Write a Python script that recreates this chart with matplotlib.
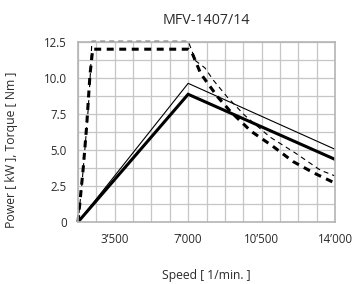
import matplotlib
matplotlib.use("Agg")
import matplotlib.pyplot as plt
import numpy as np

plt.rcParams['font.family'] = ['Open Sans', 'DejaVu Sans']
plt.rcParams['lines.scale_dashes'] = False

title = "MFV-1407/14"
xlabel = "Speed [ 1/min. ]"
ylabel = "Power [ kW ], Torque [ Nm ]"

x_ticks = [3500, 7000, 10500, 14000]
x_ticklabels = ["3\u2019500", "7\u2019000", "10\u2019500", "14\u2019000"]
y_ticks = [0, 2.5, 5.0, 7.5, 10.0, 12.5]
y_ticklabels = ["0", "2.5", "5.0", "7.5", "10.0", "12.5"]

# Power S1 (thick solid)
power_s1_x = [1750, 7000, 14000]
power_s1_y = [0, 8.87, 4.35]
# Power S6 (thin solid)
power_s6_x = [1750, 7000, 14000]
power_s6_y = [0, 9.63, 5.05]
# Torque S1 (thick dashed)
torque_s1_x = [1750, 2000, 2165, 2320, 2450, 7000, 7200, 7600, 8400, 9000, 10000, 11000, 12000, 13000, 14000]
torque_s1_y = [0, 3.75, 6.7, 10.2, 12.0, 12.0, 11.7, 10.3, 8.7, 7.7, 6.3, 5.3, 4.2, 3.4, 2.7]
# Torque S6 (thin dashed)
torque_s6_x = [1750, 1920, 2080, 2240, 2355, 2410, 7000, 7150, 7350, 7800, 8200, 8850, 9700, 10900, 12100, 13300, 14000]
torque_s6_y = [0, 2.35, 5.1, 7.9, 10.7, 12.55, 12.55, 12.0, 11.2, 10.7, 9.85, 8.7, 7.4, 5.9, 4.8, 3.6, 3.2]

fig = plt.figure(figsize=(3.56, 2.84), dpi=100)
ax = fig.add_axes([78/356, 1-222/284, (335-78)/356, (222-42)/284])

ax.set_xlim(1750, 14000)
ax.set_ylim(0, 12.5)

ax.set_xticks(x_ticks)
ax.set_xticklabels(x_ticklabels)
ax.set_xticks(np.arange(1750, 14001, 875), minor=True)
ax.set_yticks(y_ticks)
ax.set_yticklabels(y_ticklabels)
ax.set_yticks(np.arange(0, 12.51, 1.25), minor=True)
ax.tick_params(which='both', length=0, labelsize=8.3, colors='#2a2a2a')
ax.tick_params(axis='x', pad=8)
ax.tick_params(axis='y', pad=8)

ax.grid(True, which='both', color='#c6c6c6', linewidth=0.9)
ax.set_axisbelow(True)
for s in ax.spines.values():
    s.set_color('#b4b4b4')
    s.set_linewidth(1.2)

ax.plot(power_s6_x, power_s6_y, color='black', lw=0.8, solid_joinstyle='miter')
ax.plot(power_s1_x, power_s1_y, color='black', lw=2.2, solid_joinstyle='miter')
l1, = ax.plot(torque_s6_x, torque_s6_y, color='black', lw=0.8, clip_on=False)
l1.set_dashes((3.6, 2.9))
l2, = ax.plot(torque_s1_x, torque_s1_y, color='black', lw=2.2, clip_on=False)
l2.set_dashes((5.0, 4.0))

fig.text(206/356, 1-21/284, title, ha='center', va='center', fontsize=10.3, color='#2a2a2a')
fig.text(206/356, 1-276/284, xlabel, ha='center', va='center', fontsize=8.7, color='#2a2a2a')
fig.text(12/356, 1-150/284, ylabel, ha='center', va='center', rotation=90, fontsize=8.8, color='#2a2a2a')

fig.savefig("out.png", dpi=100)
